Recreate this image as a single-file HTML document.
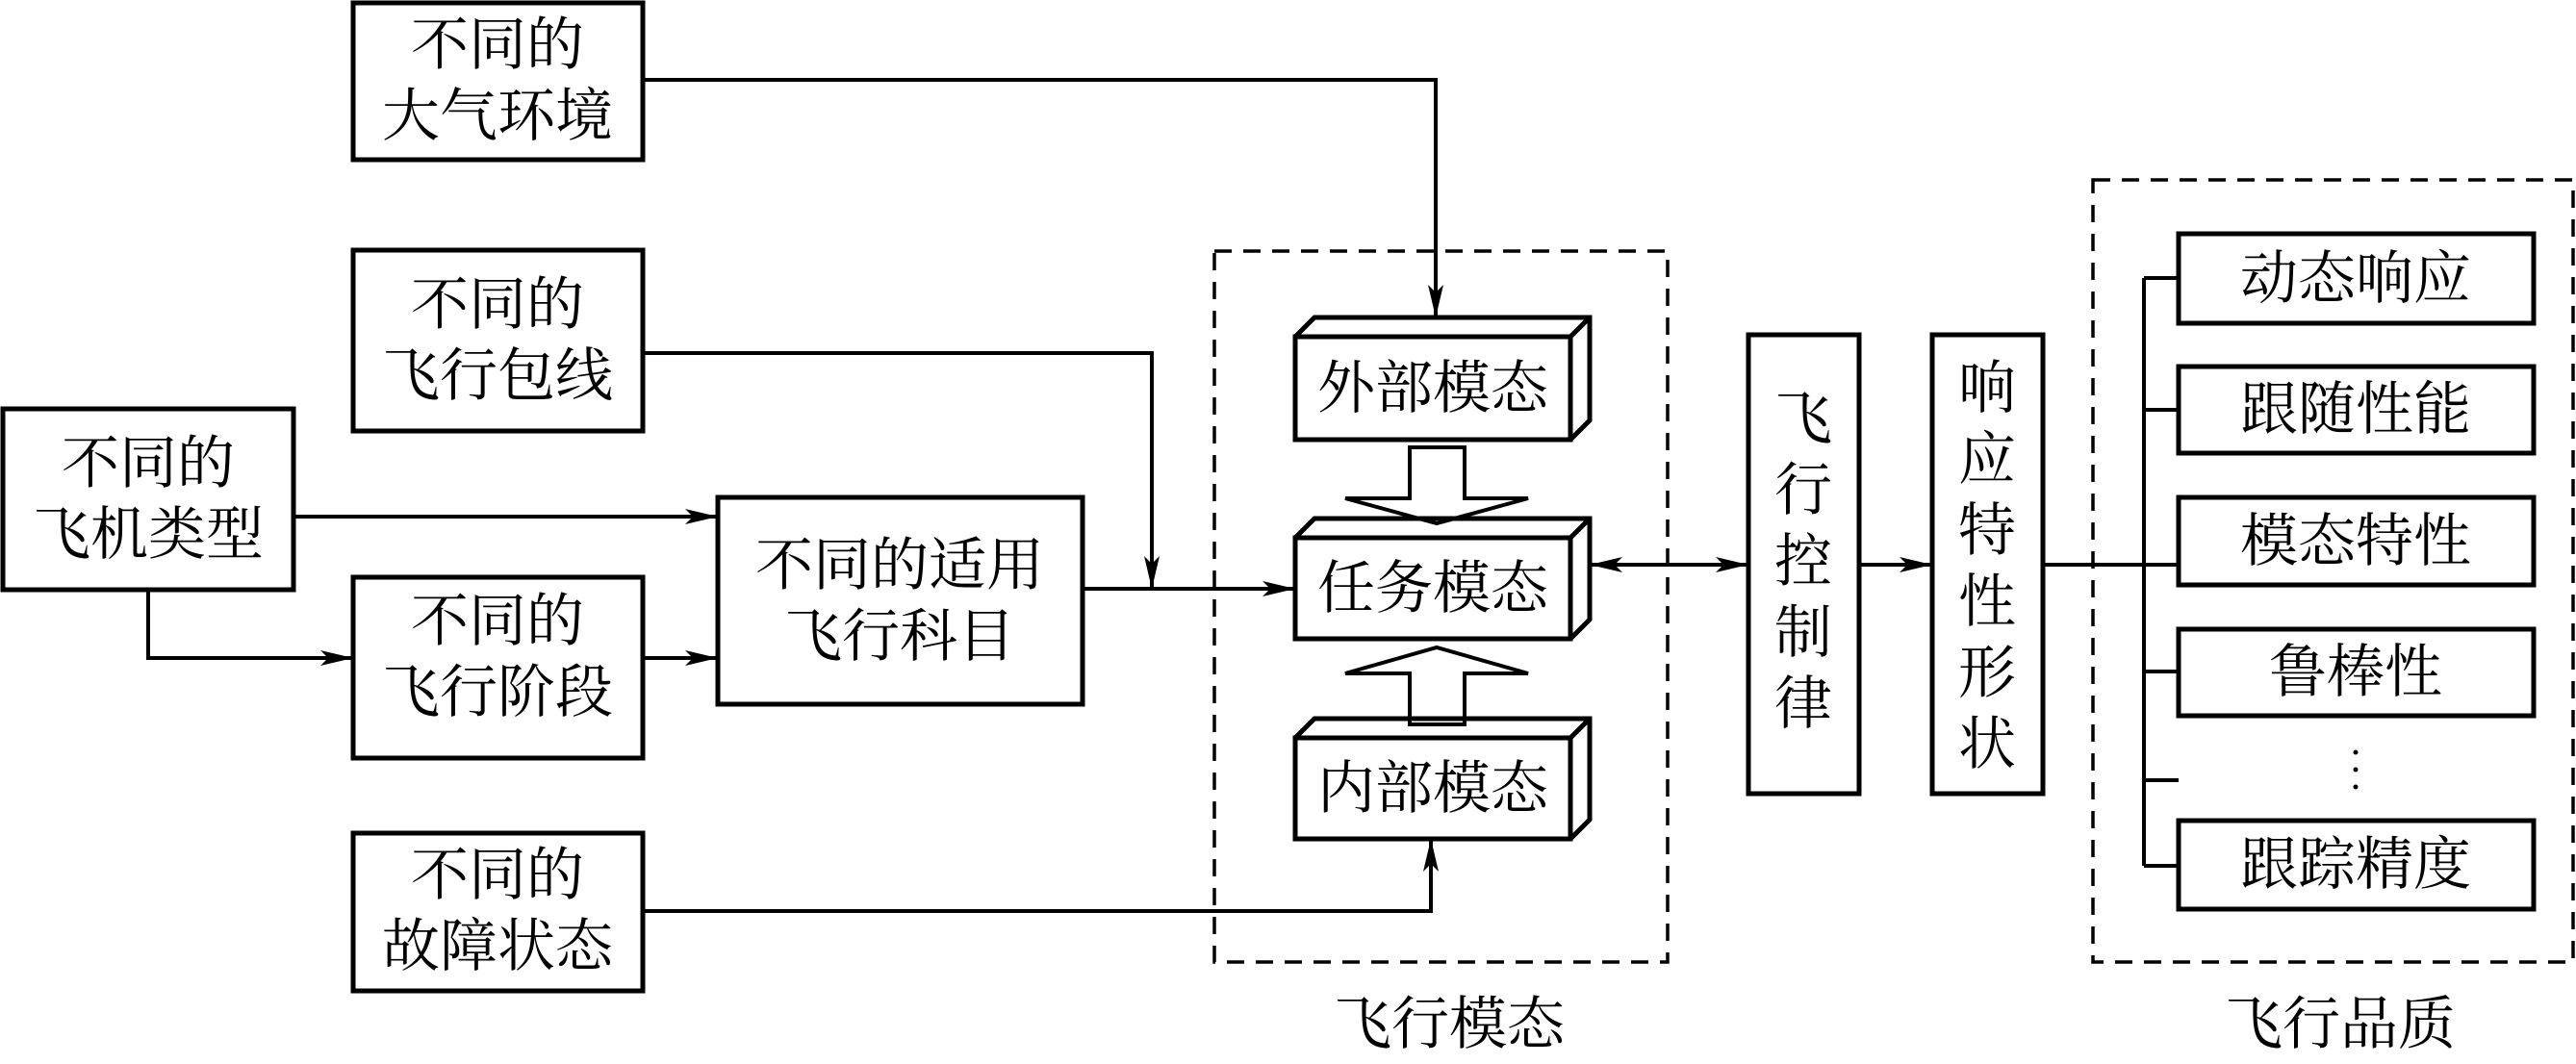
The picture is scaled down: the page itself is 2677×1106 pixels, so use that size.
<!DOCTYPE html>
<html><head><meta charset="utf-8"><style>
html,body{margin:0;padding:0;background:#fff}
svg{display:block}
text{font-family:"Liberation Serif","Noto Serif CJK SC","Noto Sans CJK SC",serif;font-size:60px;fill:#000;text-anchor:middle;dominant-baseline:central}
</style></head><body>
<svg width="2677" height="1106" viewBox="0 0 2677 1106" xmlns="http://www.w3.org/2000/svg">
<defs>
<marker id="a" markerWidth="34" markerHeight="16" refX="32" refY="8" orient="auto" markerUnits="userSpaceOnUse">
<path d="M0,0 L34,8 L0,16 L8,8 Z" fill="#000"/>
</marker>
<marker id="b" markerWidth="34" markerHeight="16" refX="2" refY="8" orient="auto" markerUnits="userSpaceOnUse">
<path d="M34,0 L0,8 L34,16 L26,8 Z" fill="#000"/>
</marker>
</defs>
<g fill="none" stroke="#000" stroke-width="5">
<!-- left boxes -->
<rect x="367" y="3" width="301" height="163"/>
<rect x="367" y="260" width="301" height="188"/>
<rect x="3" y="425" width="302" height="188"/>
<rect x="367" y="600" width="301" height="188"/>
<rect x="367" y="866" width="301" height="164"/>
<rect x="746" y="517" width="379" height="215"/>
<!-- dashed -->
<rect x="1262" y="261" width="471" height="739" stroke-dasharray="18,12" stroke-width="3.5"/>
<rect x="2175" y="187" width="499" height="813" stroke-dasharray="18,12" stroke-width="3.5"/>
<!-- 3D boxes -->
<g stroke-width="5">
<rect x="1346" y="350" width="286" height="107"/>
<path d="M1346,350 L1366,330 L1652,330 L1652,437 L1632,457 M1632,350 L1652,330"/>
<rect x="1346" y="559" width="286" height="105"/>
<path d="M1346,559 L1366,539 L1652,539 L1652,644 L1632,664 M1632,559 L1652,539"/>
<rect x="1346" y="767" width="286" height="105"/>
<path d="M1346,767 L1366,747 L1652,747 L1652,852 L1632,872 M1632,767 L1652,747"/>
</g>
<!-- fat arrows -->
<path d="M1465,465 L1522,465 L1522,518 L1588,518 L1493,544 L1398,518 L1465,518 Z" stroke-width="4"/>
<path d="M1465,753 L1522,753 L1522,700 L1588,700 L1493,673 L1398,700 L1465,700 Z" stroke-width="4"/>
<!-- vertical boxes -->
<rect x="1817" y="348" width="115" height="477"/>
<rect x="2008" y="348" width="115" height="477"/>
<!-- right boxes -->
<rect x="2264" y="243" width="369" height="93"/>
<rect x="2264" y="381" width="369" height="90"/>
<rect x="2264" y="517" width="369" height="91"/>
<rect x="2264" y="654" width="369" height="90"/>
<rect x="2264" y="853" width="369" height="92"/>
</g>
<g fill="none" stroke="#000" stroke-width="4">
<polyline points="668,83 1492,83 1492,328" marker-end="url(#a)"/>
<polyline points="668,367 1197,367 1197,610" marker-end="url(#a)"/>
<line x1="1125" y1="612" x2="1344" y2="612" marker-end="url(#a)"/>
<line x1="305" y1="537" x2="744" y2="537" marker-end="url(#a)"/>
<polyline points="154,613 154,684 365,684" marker-end="url(#a)"/>
<line x1="668" y1="684" x2="744" y2="684" marker-end="url(#a)"/>
<polyline points="668,947 1487,947 1487,874" marker-end="url(#a)"/>
<line x1="1654" y1="587" x2="1815" y2="587" marker-start="url(#b)" marker-end="url(#a)"/>
<line x1="1932" y1="587" x2="2006" y2="587" marker-end="url(#a)"/>
<line x1="2123" y1="587" x2="2264" y2="587"/>
<line x1="2228" y1="289" x2="2228" y2="900"/>
<line x1="2228" y1="289" x2="2264" y2="289"/>
<line x1="2228" y1="426" x2="2264" y2="426"/>
<line x1="2228" y1="698" x2="2264" y2="698"/>
<line x1="2228" y1="811" x2="2264" y2="811"/>
<line x1="2228" y1="900" x2="2264" y2="900"/>
</g>
<g fill="#000">
<circle cx="2448" cy="782" r="2.5"/><circle cx="2448" cy="800" r="2.5"/><circle cx="2448" cy="818" r="2.5"/>
</g>
<text x="517" y="47">不同的</text><text x="517" y="121">大气环境</text>
<text x="517" y="317">不同的</text><text x="517" y="391">飞行包线</text>
<text x="154" y="482">不同的</text><text x="154" y="556">飞机类型</text>
<text x="517" y="646">不同的</text><text x="517" y="720">飞行阶段</text>
<text x="517" y="910">不同的</text><text x="517" y="984">故障状态</text>
<text x="935" y="588">不同的适用</text><text x="935" y="662">飞行科目</text>
<text x="1489" y="404">外部模态</text>
<text x="1489" y="612">任务模态</text>
<text x="1489" y="820">内部模态</text>
<text x="1874" y="436">飞</text><text x="1874" y="510">行</text><text x="1874" y="584">控</text><text x="1874" y="658">制</text><text x="1874" y="732">律</text>
<text x="2065" y="404">响</text><text x="2065" y="478">应</text><text x="2065" y="552">特</text><text x="2065" y="626">性</text><text x="2065" y="700">形</text><text x="2065" y="774">状</text>
<text x="2448" y="290">动态响应</text>
<text x="2448" y="426">跟随性能</text>
<text x="2448" y="563">模态特性</text>
<text x="2448" y="699">鲁棒性</text>
<text x="2448" y="899">跟踪精度</text>
<text x="1506" y="1065">飞行模态</text>
<text x="2432" y="1065">飞行品质</text>
</svg>
</body></html>
